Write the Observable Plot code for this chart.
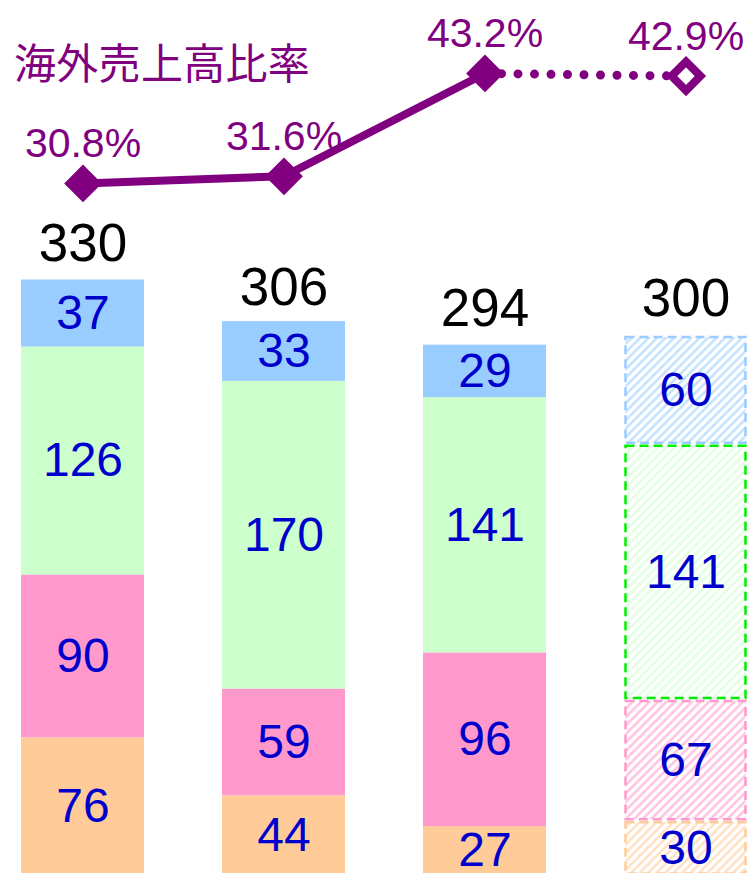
<!DOCTYPE html>
<html>
<head>
<meta charset="utf-8">
<script src="https://cdn.jsdelivr.net/npm/d3@7"></script>
<script src="https://cdn.jsdelivr.net/npm/@observablehq/plot@0.6"></script>
<style>
  html, body { margin: 0; padding: 0; background: #fff; }
  #wrap { position: relative; width: 751px; height: 873px; overflow: hidden; }
  #wrap svg { position: absolute; left: 0; top: 0; }
  #title { position: absolute; left: 14px; top: 40px; font-family: "Noto Sans CJK JP", sans-serif;
           font-size: 42px; color: #800080; line-height: 1; letter-spacing: 0.3px; }
</style>
</head>
<body>
<div id="wrap">
  <div id="title">海外売上高比率</div>
</div>
<script>
// ---- data ----
const periods = ["期1", "期2", "期3", "期4(予想)"];
const seriesNames = ["seg1", "seg2", "seg3", "seg4"]; // bottom → top
const seg1 = [76, 44, 27, 30];   // orange
const seg2 = [90, 59, 96, 67];   // pink
const seg3 = [126, 170, 141, 141]; // green
const seg4 = [37, 33, 29, 60];   // blue
const totals = [330, 306, 294, 300];
const overseasRatio = [30.8, 31.6, 43.2, 42.9];
const ratioLabels = ["30.8%", "31.6%", "43.2%", "42.9%"];
const forecastIndex = 3;

// ---- styles ----
const fillOf = {seg1: "#FFCC99", seg2: "#FF99CC", seg3: "#CCFFCC", seg4: "#99CCFF"};
const hatchOf = {seg1: "#FFDDBB", seg2: "#FFBBDD", seg3: "#DDFFDD", seg4: "#BBDDFF"};
const borderOf = {seg1: "#FFCC99", seg2: "#FF99CC", seg3: "#00EE00", seg4: "#99CCFF"};
const purple = "#800080";
const sans = "'Liberation Sans', Arial, sans-serif";

const seriesValues = [seg1, seg2, seg3, seg4];
const rows = [];
periods.forEach((p, i) => {
  seriesNames.forEach((s, j) => {
    rows.push({period: p, series: s, value: seriesValues[j][i], forecast: i === forecastIndex});
  });
});
const totalRows = periods.map((p, i) => ({period: p, total: totals[i]}));
const ratioRows = periods.map((p, i) => ({period: p, ratio: overseasRatio[i], label: ratioLabels[i]}));

const xScale = {type: "band", domain: periods, range: [20, 748], paddingInner: 0.39, paddingOuter: 0, axis: null};

const bars = Plot.plot({
  width: 751, height: 873,
  margin: 0,
  style: {fontFamily: sans, background: "transparent", overflow: "visible"},
  x: xScale,
  y: {domain: [0, 480], range: [875, 6.2], axis: null},
  color: {type: "identity"},
  marks: [
    Plot.barY(rows.filter(d => !d.forecast), Plot.stackY({
      x: "period", y: "value", fill: d => fillOf[d.series]
    })),
    Plot.barY(rows.filter(d => d.forecast), Plot.stackY({
      x: "period", y: "value", fill: d => `url(#hatch-${d.series})`,
      stroke: d => borderOf[d.series], strokeWidth: 2.5, strokeDasharray: "9 5",
      inset: 1.5
    })),
    Plot.text(rows, Plot.stackY({
      x: "period", y: "value", text: "value", fill: "#0000CC",
      fontSize: 48, fontFamily: sans, lineAnchor: "middle"
    })),
    Plot.text(totalRows, {
      x: "period", y: "total", text: d => String(d.total), fill: "#000",
      fontSize: 53, fontFamily: sans, lineAnchor: "bottom", dy: -17
    })
  ]
});

// hatch patterns for forecast bar
const defs = d3.select(bars).insert("defs", ":first-child");
seriesNames.forEach(s => {
  const pat = defs.append("pattern")
    .attr("id", `hatch-${s}`)
    .attr("patternUnits", "userSpaceOnUse")
    .attr("width", 6).attr("height", 6)
    .attr("patternTransform", "rotate(45)");
  pat.append("rect").attr("width", 6).attr("height", 6).attr("fill", "#fff");
  pat.append("line").attr("x1", 1.5).attr("y1", 0).attr("x2", 1.5).attr("y2", 6)
    .attr("stroke", hatchOf[s]).attr("stroke-width", 2.2);
});

const line = Plot.plot({
  width: 751, height: 873,
  margin: 0,
  style: {fontFamily: sans, background: "transparent", overflow: "visible"},
  x: xScale,
  y: {domain: [30, 45], range: [190, 57], axis: null},
  marks: [
    Plot.line(ratioRows.slice(0, 3), {x: "period", y: "ratio", stroke: purple, strokeWidth: 8}),
    Plot.line(ratioRows.slice(2, 4), {x: "period", y: "ratio", stroke: purple, strokeWidth: 9,
      strokeDasharray: "0 16.5", strokeLinecap: "round"}),
    Plot.dot(ratioRows.slice(0, 3), {x: "period", y: "ratio", symbol: "diamond2", r: 17, fill: purple, stroke: "none"}),
    Plot.dot(ratioRows.slice(3), {x: "period", y: "ratio", symbol: "diamond2", r: 13, fill: "#fff", stroke: purple, strokeWidth: 8}),
    Plot.text(ratioRows, {x: "period", y: "ratio", text: "label", fill: purple, fontSize: 41,
      fontFamily: sans, lineAnchor: "bottom", dy: -26})
  ]
});

const wrap = document.getElementById("wrap");
wrap.insertBefore(bars, wrap.firstChild);
wrap.appendChild(line);
</script>
</body>
</html>
